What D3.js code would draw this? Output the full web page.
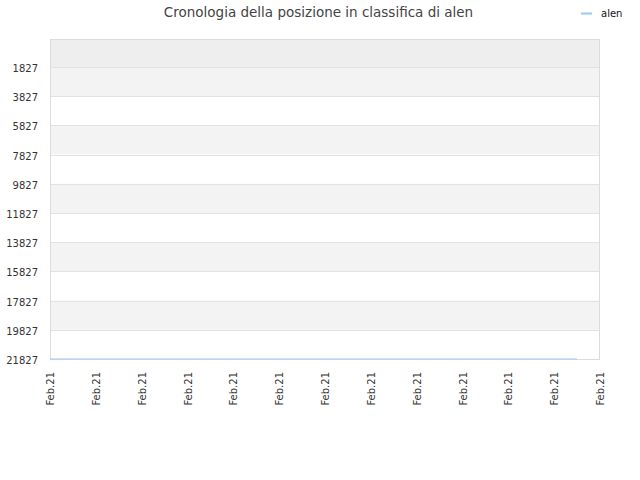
<!DOCTYPE html>
<html><head><meta charset="utf-8">
<script src="https://cdn.jsdelivr.net/npm/d3@7"></script>
<style>body{margin:0;background:#fff;} svg{display:block;}</style>
</head><body>
<svg id="c" width="640" height="480"></svg>
<script>
const seriesName = "alen";
const dates = ["2021-02-01", "2021-02-24"];
const ranks = [21827, 21827];
const yTicks = [1827, 3827, 5827, 7827, 9827, 11827, 13827, 15827, 17827, 19827, 21827];
const xTicks = ["2021-02-01","2021-02-03","2021-02-05","2021-02-07","2021-02-09","2021-02-11","2021-02-13","2021-02-15","2021-02-17","2021-02-19","2021-02-21","2021-02-23","2021-02-25"];
const xDomain = ["2021-02-01", "2021-02-25"];
const yDomainTop = -91;

const parse = d3.timeParse("%Y-%m-%d");
const svg = d3.select("#c");
const L = 50, R = 600, T = 39, B = 359;
const x = d3.scaleTime().domain(xDomain.map(parse)).range([L, R]);
const y = d3.scaleLinear().domain([yDomainTop, 21827]).range([T, B]);

// bands
const bounds = [yDomainTop].concat(yTicks);
for (let i = 0; i < bounds.length - 1; i++) {
  const fill = i === 0 ? "#eeeeee" : (i % 2 === 1 ? "#f3f3f3" : "#ffffff");
  svg.append("rect").attr("x", L).attr("width", R - L)
    .attr("y", y(bounds[i])).attr("height", y(bounds[i+1]) - y(bounds[i]))
    .attr("fill", fill);
}
// gridlines
svg.append("g").selectAll("line").data(yTicks).join("line")
  .attr("x1", L).attr("x2", R).attr("y1", d => Math.round(y(d)) + 0.5).attr("y2", d => Math.round(y(d)) + 0.5)
  .attr("stroke", "#e2e2e2").attr("stroke-width", 1);
// frame
svg.append("rect").attr("x", L + 0.5).attr("y", T + 0.5).attr("width", R - L - 1).attr("height", B - T)
  .attr("fill", "none").attr("stroke", "#dcdcdc");

// y axis labels
const yAxis = d3.axisLeft(y).tickValues(yTicks).tickSize(0).tickPadding(12).tickFormat(d3.format("d"));
const gy = svg.append("g").attr("transform", `translate(${L},0)`).call(yAxis);
gy.select(".domain").remove();
gy.selectAll("text").attr("font-family", "DejaVu Sans").attr("font-size", 10).attr("fill", "#333").attr("dy", "0.45em");

// x axis labels
const xAxis = d3.axisBottom(x).tickValues(xTicks.map(parse)).tickSize(0).tickFormat(d3.timeFormat("%b.%y"));
const gx = svg.append("g").attr("transform", `translate(0,${B})`).call(xAxis);
gx.select(".domain").remove();
gx.selectAll("text").attr("font-family", "DejaVu Sans").attr("font-size", 10).attr("fill", "#333")
  .attr("transform", "rotate(-90)").attr("text-anchor", "end").attr("dx", "-13").attr("dy", "0.35em").attr("y", 0).attr("x", 0);

// line
const data = dates.map((d, i) => ({d: parse(d), v: ranks[i]}));
svg.append("path").datum(data).attr("fill", "none").attr("stroke", "#99c8f4").attr("stroke-width", 1.2)
  .attr("d", d3.line().x(d => x(d.d)).y(d => y(d.v)));

// title
svg.append("text").attr("x", 318.5).attr("y", 17).attr("text-anchor", "middle")
  .attr("font-family", "DejaVu Sans").attr("font-size", 13.5).attr("fill", "#444")
  .text("Cronologia della posizione in classifica di " + seriesName);

// legend
svg.append("line").attr("x1", 581).attr("x2", 592).attr("y1", 13.5).attr("y2", 13.5)
  .attr("stroke", "#99c8f4").attr("stroke-width", 2);
svg.append("text").attr("x", 601).attr("y", 16.5).attr("font-family", "DejaVu Sans").attr("font-size", 10)
  .attr("fill", "#111").text(seriesName);
</script>
</body></html>
